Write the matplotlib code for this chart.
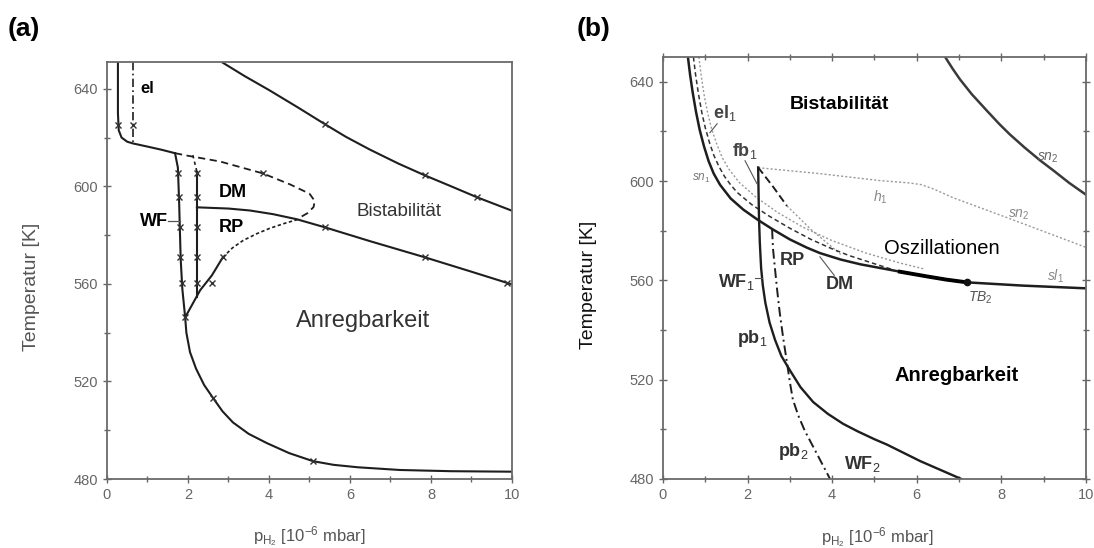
import matplotlib.pyplot as plt
from matplotlib.ticker import MultipleLocator

# lettertype zoals in het origineel (Arial-achtig)
plt.rcParams['font.family'] = ['Liberation Sans', 'DejaVu Sans']
plt.rcParams['mathtext.fontset'] = 'custom'
plt.rcParams['mathtext.rm'] = 'Liberation Sans'
plt.rcParams['mathtext.it'] = 'Liberation Sans:italic'
plt.rcParams['mathtext.bf'] = 'Liberation Sans:bold'

# ---- data paneel (a) ---------------------------------------------------------
a_top_p = [2.86, 3.4, 4.0, 4.7, 5.38, 5.9, 6.5, 7.2, 7.85, 8.5, 9.14, 10.0]
a_top_T = [650.7, 645.2, 639.5, 632.5, 625.5, 620.3, 615.0, 609.3, 604.5, 600.0, 595.5, 590.0]

a_left_p = [0.27, 0.27, 0.29, 0.36, 0.5, 0.64, 1.0, 1.35, 1.68]
a_left_T = [651, 630, 623, 620, 618.3, 617.6, 616.3, 615.0, 613.6]

a_dm_p = [1.68, 1.98, 2.79, 3.85, 4.52, 5.0, 5.13, 5.1, 4.95, 4.77]
a_dm_T = [613.6, 612.6, 610.2, 605.3, 600.8, 597.0, 594.0, 591.5, 589.0, 587.3]

a_wf_p = [1.68, 1.75, 1.78, 1.80, 1.82, 1.86, 1.93, 1.96, 2.05, 2.2, 2.4, 2.62, 2.85, 3.11,
          3.5, 3.95, 4.5, 5.09, 5.6, 6.2, 7.23, 8.5, 10.0]
a_wf_T = [613.6, 607.7, 594.2, 581.9, 570.0, 558.0, 546.3, 540.0, 532.0, 525.2, 518.5, 513.2, 507.8, 503.2,
          498.5, 494.7, 490.6, 487.3, 485.8, 484.8, 483.7, 483.2, 483.0]

a_vert_p = [2.22, 2.22]
a_vert_T = [606.0, 554.5]
a_vert_top_p = [2.12, 2.22]
a_vert_top_T = [612.8, 606.0]

a_diag_p = [1.93, 2.30, 2.59, 2.86]
a_diag_T = [546.3, 557.4, 563.5, 570.9]
a_diag2_p = [2.86, 3.1, 3.36, 3.7, 4.02, 4.4, 4.77]
a_diag2_T = [570.9, 574.8, 577.8, 580.6, 582.8, 584.9, 586.7]

a_rp_p = [2.22, 3.0, 3.53, 4.1, 4.69, 5.38, 6.5, 7.85, 9.0, 10.0]
a_rp_T = [591.4, 590.9, 590.1, 588.6, 586.5, 583.2, 577.5, 570.9, 565.0, 559.8]

a_el_p = [0.64, 0.64]
a_el_T = [651, 617.6]

a_cross_p = [0.27, 0.64, 5.38, 7.85, 9.14, 5.38, 7.85, 9.88, 3.85,
             1.76, 1.78, 1.80, 1.81, 1.85, 2.22, 2.22, 2.22, 2.22, 2.22, 2.6,
             1.93, 2.62, 5.09, 2.86]
a_cross_T = [625, 625, 625.5, 604.5, 595.5, 583.2, 570.9, 560.2, 605.3,
             605.3, 595.5, 583.2, 570.9, 560.2, 605.3, 595.5, 583.2, 570.9, 560.2, 560.2,
             546.3, 513.2, 487.3, 570.9]

# ---- data paneel (b) ---------------------------------------------------------
b_sn2_p = [6.67, 6.85, 7.02, 7.3, 7.66, 7.95, 8.2, 8.55, 8.91, 9.25, 9.6, 10.0]
b_sn2_T = [650, 645.2, 641.0, 635.0, 628.3, 623.0, 618.8, 613.5, 608.4, 604.0, 599.3, 594.5]

b_main_p = [0.59, 0.64, 0.7, 0.78, 0.87, 0.97, 1.08, 1.2, 1.35, 1.6, 1.9, 2.25, 2.6, 3.0, 3.4,
            3.71, 4.2, 4.66, 5.13, 5.7, 6.24, 6.7, 7.19, 8.5, 10.0]
b_main_T = [650, 643, 636, 628, 620.5, 614, 608, 603, 598.5, 593, 588.5, 584.3, 580.5, 576.5, 573.2,
            571, 568.4, 566.5, 565.0, 563.2, 561.6, 560.3, 559.2, 557.9, 556.8]

b_thick_p = [5.6, 6.24, 6.7, 7.19]
b_thick_T = [563.5, 561.6, 560.3, 559.2]

b_el_p = [0.72, 0.77, 0.84, 0.92, 1.0, 1.1, 1.2, 1.32, 1.45, 1.6, 1.75, 2.1, 2.5, 3.0, 3.5,
          4.0, 4.4, 4.8, 5.4]
b_el_T = [650, 643, 635, 627.5, 621.5, 615.5, 610.5, 606, 602, 598.5, 595.5, 590.5, 586, 581, 576.5,
          572.7, 570, 567.8, 564.5]

b_sn1_p = [0.85, 0.9, 0.97, 1.05, 1.15, 1.27, 1.4, 1.55, 1.8, 2.2, 2.7, 3.3, 4.0, 4.8, 5.6, 6.2]
b_sn1_T = [650, 643, 635, 628, 621, 615, 609.5, 605, 599.5, 593.5, 587.5, 581.5, 576, 571, 567, 564.5]

b_h1_p = [2.25, 3.71, 5.13, 5.8, 6.1, 6.4, 6.86, 8.13, 10.0]
b_h1_T = [605.4, 603.0, 600.2, 599.3, 598.6, 596.8, 593.3, 585.3, 573.3]

b_wf_p = [2.25, 2.26, 2.27, 2.29, 2.32, 2.36, 2.42, 2.52, 2.65, 2.8, 3.0, 3.25, 3.55, 3.9,
          4.26, 4.6, 5.0, 5.3, 6.08, 7.05]
b_wf_T = [605.5, 595, 585, 575, 565, 558, 551, 543, 536, 529.5, 523.8, 517, 511, 506.2,
          502.2, 499.2, 496.0, 493.8, 487.2, 480.0]

b_pb2_p = [2.58, 2.6, 2.64, 2.7, 2.76, 2.84, 2.93, 3.0, 3.07, 3.2, 3.35, 3.55, 3.75, 3.95]
b_pb2_T = [580.5, 573, 566, 556, 547, 537, 527, 519, 512, 505.5, 499.5, 493, 486.5, 480.0]

b_fb_p = [2.25, 2.6, 2.93]
b_fb_T = [605.5, 597.8, 590.0]
b_fb2_p = [2.93, 3.5, 4.2]
b_fb2_T = [590.0, 580.5, 570.5]

b_tb_p = [7.19]
b_tb_T = [559.2]

xticks = [0, 2, 4, 6, 8, 10]
yticks = [480, 520, 560, 600, 640]

lijn = '#1e1e1e'
grijs = '#9a9a9a'


def opmaak(ax, rondom):
    ax.set_xlim(0, 10)
    ax.set_xticks(xticks)
    ax.set_yticks(yticks)
    ax.xaxis.set_minor_locator(MultipleLocator(1))
    ax.yaxis.set_minor_locator(MultipleLocator(20))
    ax.tick_params(which='both', direction='inout', colors='#666666',
                   labelsize=10.5, top=rondom, right=rondom, width=1)
    ax.tick_params(which='major', length=6)
    ax.tick_params(which='minor', length=4)
    for s in ax.spines.values():
        s.set_color('#6a6a6a')
        s.set_linewidth(1.3)
    ax.set_xlabel(r'p$_{\mathrm{H}_2}$ [10$^{-6}$ mbar]', fontsize=12, color='#555555')


# ---- paneel (a) --------------------------------------------------------------
fig = plt.figure(figsize=(10.94, 5.48), dpi=100)
ax1 = fig.add_axes([0.0978, 0.1259, 0.3702, 0.761])
ax1.set_ylim(480, 651)

ax1.plot(a_top_p, a_top_T, color=lijn, lw=1.5)
ax1.plot(a_left_p, a_left_T, color=lijn, lw=1.5)
ax1.plot(a_dm_p, a_dm_T, color=lijn, lw=1.3, ls=(0, (4, 2.5)))
ax1.plot(a_wf_p, a_wf_T, color=lijn, lw=1.5)
ax1.plot(a_vert_p, a_vert_T, color=lijn, lw=1.5)
ax1.plot(a_vert_top_p, a_vert_top_T, color=lijn, lw=1.2, ls=(0, (2, 2)))
ax1.plot(a_diag_p, a_diag_T, color=lijn, lw=1.5)
ax1.plot(a_diag2_p, a_diag2_T, color=lijn, lw=1.2, ls=(0, (2, 1.5)))
ax1.plot(a_rp_p, a_rp_T, color=lijn, lw=1.5)
ax1.plot(a_el_p, a_el_T, color=lijn, lw=1.2, ls=(0, (5, 2, 1, 2)))
ax1.plot(a_cross_p, a_cross_T, ls='none', marker='x', ms=5, mew=1, color='#333333')

ax1.text(0.82, 640, 'el', fontsize=12, fontweight='bold', va='center')
ax1.text(3.1, 597.5, 'DM', fontsize=13, fontweight='bold', ha='center', va='center')
ax1.text(3.06, 583.2, 'RP', fontsize=13, fontweight='bold', ha='center', va='center')
ax1.text(1.5, 585.6, 'WF', fontsize=13, fontweight='bold', ha='right', va='center')
ax1.plot([1.5, 1.8], [585.6, 585.6], color='#555555', lw=0.9)
ax1.text(7.2, 589.7, 'Bistabilität', fontsize=13.5, ha='center', va='center', color='#333333')
ax1.text(6.32, 544.7, 'Anregbarkeit', fontsize=17, ha='center', va='center', color='#333333')

opmaak(ax1, False)
ax1.set_ylabel('Temperatur [K]', fontsize=14, color='#555555')
ax1.yaxis.set_label_coords(-0.165, 0.46)
ax1.xaxis.set_label_coords(0.5, -0.11)

# ---- paneel (b) --------------------------------------------------------------
ax2 = fig.add_axes([0.606, 0.126, 0.3867, 0.770])
ax2.set_ylim(480, 650)

ax2.plot(b_sn1_p, b_sn1_T, color=grijs, lw=1.0, ls=(0, (1.5, 1.5)))
ax2.plot(b_h1_p, b_h1_T, color=grijs, lw=1.0, ls=(0, (1.5, 1.5)))
ax2.plot(b_fb2_p, b_fb2_T, color=grijs, lw=1.0, ls=(0, (1.5, 1.5)))
ax2.plot(b_el_p, b_el_T, color='#333333', lw=1.1, ls=(0, (3, 2)))
ax2.plot(b_main_p, b_main_T, color=lijn, lw=1.8)
ax2.plot(b_thick_p, b_thick_T, color='#000000', lw=2.8)
ax2.plot(b_sn2_p, b_sn2_T, color='#3a3a3a', lw=1.8)
ax2.plot(b_wf_p, b_wf_T, color=lijn, lw=1.7)
ax2.plot(b_pb2_p, b_pb2_T, color=lijn, lw=1.4, ls=(0, (5, 2, 1, 2)))
ax2.plot(b_fb_p, b_fb_T, color=lijn, lw=1.4, ls=(0, (4, 2)))
ax2.plot(b_tb_p, b_tb_T, ls='none', marker='o', ms=4.5, color='#111111')

ax2.text(1.45, 627.5, 'el$_1$', fontsize=13, fontweight='bold', ha='center', va='center', color='#444444')
ax2.plot([1.28, 1.11], [623.1, 619.5], color='#555555', lw=0.8)
ax2.text(1.94, 612.3, 'fb$_1$', fontsize=13, fontweight='bold', ha='center', va='center', color='#444444')
ax2.plot([1.94, 2.22], [608.2, 599.0], color='#555555', lw=0.8)
ax2.text(0.9, 601, r'$sn_1$', fontsize=8.5, ha='center', va='center', color='#777777')
ax2.text(2.17, 559.2, 'WF$_1$', fontsize=13, fontweight='bold', ha='right', va='center', color='#333333')
ax2.plot([2.17, 2.33], [561.0, 561.0], color='#555555', lw=0.8)
ax2.text(3.05, 568.0, 'RP', fontsize=13, fontweight='bold', ha='center', va='center', color='#333333')
ax2.text(4.18, 558.5, 'DM', fontsize=13, fontweight='bold', ha='center', va='center', color='#333333')
ax2.plot([3.71, 4.05], [569.5, 562.0], color='#555555', lw=0.8)
ax2.text(2.1, 536.7, 'pb$_1$', fontsize=13, fontweight='bold', ha='center', va='center', color='#333333')
ax2.text(3.07, 490.9, 'pb$_2$', fontsize=13, fontweight='bold', ha='center', va='center', color='#333333')
ax2.text(4.7, 486.0, 'WF$_2$', fontsize=13, fontweight='bold', ha='center', va='center', color='#333333')
ax2.text(9.1, 609.5, r'$sn_2$', fontsize=10, ha='center', va='center', color='#666666')
ax2.text(5.13, 593.4, r'$h_1$', fontsize=10, ha='center', va='center', color='#888888')
ax2.text(8.4, 586.3, r'$sn_2$', fontsize=10, ha='center', va='center', color='#888888')
ax2.text(9.27, 561.5, r'$sl_1$', fontsize=10, ha='center', va='center', color='#888888')
ax2.text(7.5, 552.8, r'$TB_2$', fontsize=10, ha='center', va='center', color='#555555')

ax2.text(4.18, 630.8, 'Bistabilität', fontsize=14, fontweight='bold', ha='center', va='center')
ax2.text(6.6, 572.9, 'Oszillationen', fontsize=14.5, ha='center', va='center')
ax2.text(6.95, 521.8, 'Anregbarkeit', fontsize=14.5, fontweight='bold', ha='center', va='center')

opmaak(ax2, True)
ax2.set_ylabel('Temperatur [K]', fontsize=14, color='#111111')
ax2.yaxis.set_label_coords(-0.156, 0.46)
ax2.xaxis.set_label_coords(0.506, -0.11)

fig.text(0.007, 0.947, '(a)', fontsize=19, fontweight='bold', va='center')
fig.text(0.527, 0.947, '(b)', fontsize=19, fontweight='bold', va='center')

fig.savefig('out.png', dpi=100)
